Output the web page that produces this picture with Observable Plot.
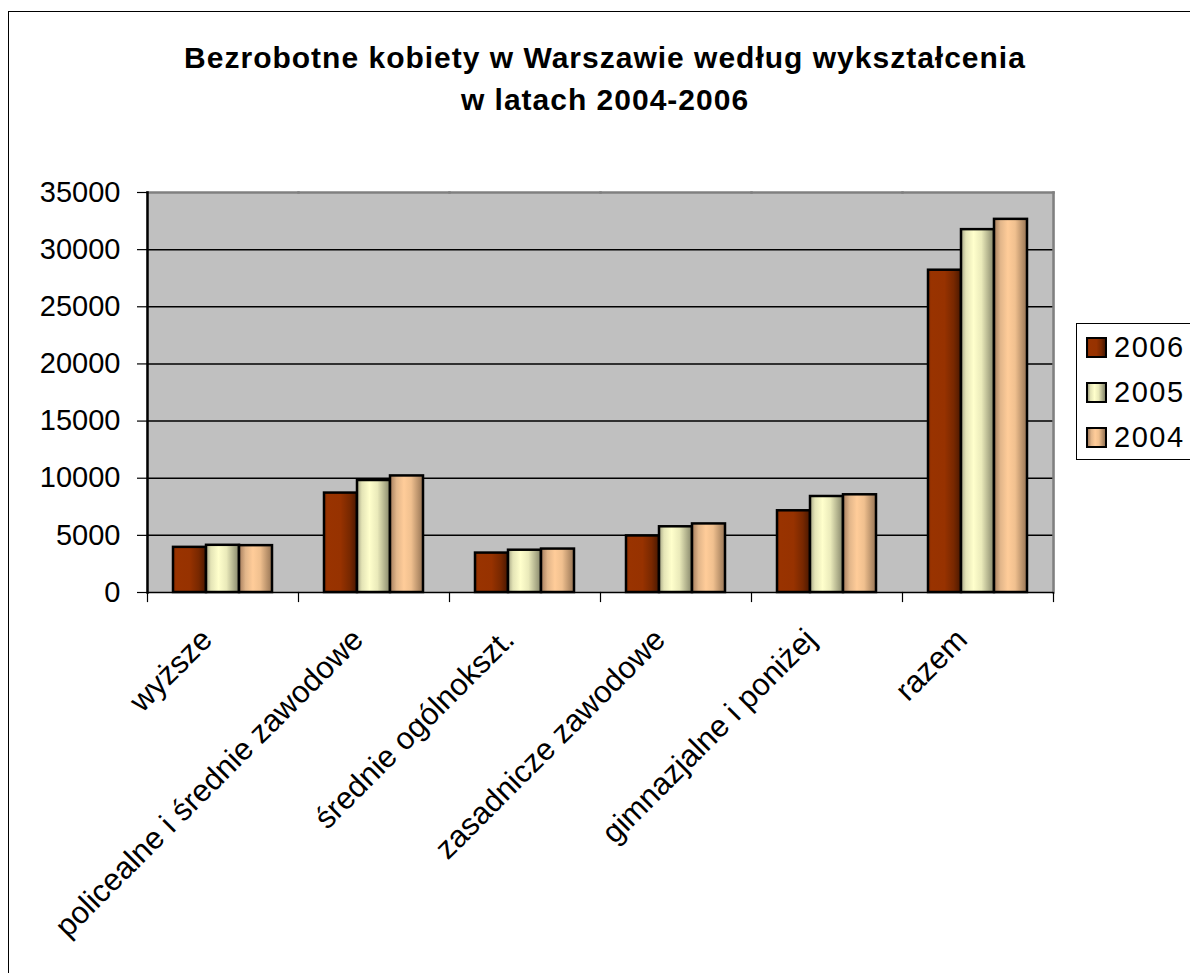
<!DOCTYPE html>
<html>
<head>
<meta charset="utf-8">
<script src="https://cdn.jsdelivr.net/npm/d3@7"></script>
<script src="https://cdn.jsdelivr.net/npm/@observablehq/plot@0.6"></script>
<style>
  body { margin: 0; background: #fff; font-family: "Liberation Sans", Arial, sans-serif; color: #000; }
  #wrap { position: relative; width: 1190px; height: 973px; overflow: hidden; background: #fff; }
  #border { position: absolute; left: 8px; top: 11px; width: 1400px; height: 1200px; border: 1.5px solid #000; box-sizing: border-box; pointer-events: none; }
  #title { position: relative; height: 140px; box-sizing: border-box; padding-top: 37px; width: 1210px; text-align: center; font-weight: bold; font-size: 30px; line-height: 42px; letter-spacing: 1px; }
  #chart { position: relative; }
  #legend { position: absolute; left: 1076px; top: 323px; width: 200px; height: 137px; border: 1px solid #000; background: #fff; box-sizing: border-box; padding-top: 1px; }
  .row { height: 45px; display: flex; align-items: center; font-size: 29px; letter-spacing: 1.5px; }
  .sw { width: 21px; height: 21px; border: 2px solid #000; box-sizing: border-box; margin-left: 9px; margin-right: 7px; }
</style>
</head>
<body>
<div id="wrap">
  <div id="border"></div>
  <div id="title"><div>Bezrobotne kobiety w Warszawie według wykształcenia</div><div>w latach 2004-2006</div></div>
  <div id="chart"></div>
  <div id="legend"></div>
</div>
<script>
// ---- data ----
const categories = ["wyższe", "policealne i średnie zawodowe", "średnie ogólnokszt.", "zasadnicze zawodowe", "gimnazjalne i poniżej", "razem"];
const years = ["2006", "2005", "2004"];
const v2006 = [3950, 8700, 3450, 4950, 7150, 28200];
const v2005 = [4130, 9800, 3700, 5750, 8400, 31750];
const v2004 = [4100, 10200, 3800, 6000, 8550, 32650];
const yTicks = [0, 5000, 10000, 15000, 20000, 25000, 30000, 35000];

const seriesValues = {"2006": v2006, "2005": v2005, "2004": v2004};
const rows = [];
categories.forEach((c, i) => years.forEach(y => rows.push({cat: c, year: y, value: seriesValues[y][i]})));

// ---- gradients (cylinder-like shading) ----
const gradStops = {
  "2006": [[0, "#862c00"], [0.1, "#993300"], [0.5, "#973200"], [0.78, "#782800"], [1, "#4a1800"]],
  "2005": [[0, "#a4a484"], [0.15, "#e4e4b6"], [0.38, "#ffffcc"], [0.62, "#eaeaba"], [1, "#86866a"]],
  "2004": [[0, "#a47c5c"], [0.2, "#e2b68a"], [0.42, "#ffcc99"], [0.64, "#f0c08f"], [1, "#967454"]]
};

const ff = "'Liberation Sans', Arial, sans-serif";
const innerH = 400;

const chart = Plot.plot({
  width: 1190,
  height: 833,
  marginTop: 52,
  marginBottom: 381,
  marginLeft: 147,
  marginRight: 137,
  style: {fontFamily: ff, fontSize: "29px", color: "#000", background: "transparent", overflow: "visible"},
  fx: {domain: categories, padding: 0, axis: null, label: null},
  x: {domain: years, paddingInner: 0, paddingOuter: 0.74, axis: null},
  y: {domain: [0, 35000], axis: null},
  color: {domain: years, range: years.map(y => `url(#grad${y})`)},
  marks: [
    // plot-area background (per facet, overlapping slightly to avoid seams)
    Plot.frame({fill: "#c0c0c0", stroke: null, insetLeft: -1, insetRight: -1}),
    // gridlines
    Plot.gridY(yTicks.slice(1, -1), {stroke: "#000", strokeOpacity: 1, strokeWidth: 1.5}),
    // plot-area border (gray)
    Plot.frame({anchor: "top", stroke: "#808080", strokeWidth: 2.5}),
    Plot.frame({anchor: "right", facetAnchor: "right", stroke: "#808080", strokeWidth: 2.5}),
    // bars
    Plot.barY(rows, {fx: "cat", x: "year", y: "value", fill: "year", stroke: "#000", strokeWidth: 2.5}),
    // category boundary ticks below the axis
    Plot.frame({anchor: "left", stroke: "#000", strokeWidth: 1.2, insetTop: innerH, insetBottom: -9}),
    Plot.frame({anchor: "right", facetAnchor: "right", stroke: "#000", strokeWidth: 1.2, insetTop: innerH, insetBottom: -9}),
    // x axis line
    Plot.ruleY([0], {stroke: "#000", strokeWidth: 1.5}),
    // y axis line
    Plot.frame({anchor: "left", facetAnchor: "left", stroke: "#000", strokeWidth: 2.5}),
    Plot.axisY(yTicks, {tickSize: 10, tickPadding: 17, tickFormat: d3.format("d"), label: null, stroke: "#000", strokeWidth: 1.2, fill: "#000", style: "letter-spacing:1px"}),
    Plot.axisFx({anchor: "bottom", tickRotate: -45, tickSize: 0, tickPadding: 42, dx: -16, label: null, fill: "#000", fontSize: 31, style: "letter-spacing:0.6px"})
  ]
});

// gradient defs
const defs = d3.select(chart).insert("defs", ":first-child");
years.forEach(y => {
  const lg = defs.append("linearGradient").attr("id", `grad${y}`).attr("x1", "0").attr("x2", "1").attr("y1", "0").attr("y2", "0");
  gradStops[y].forEach(([o, c]) => lg.append("stop").attr("offset", o).attr("stop-color", c));
});

document.getElementById("chart").appendChild(chart);

// legend
const legend = d3.select("#legend");
years.forEach(y => {
  const r = legend.append("div").attr("class", "row");
  r.append("div").attr("class", "sw")
    .style("background", "linear-gradient(to right, " + gradStops[y].map(([o, c]) => `${c} ${o * 100}%`).join(", ") + ")");
  r.append("span").text(y);
});
</script>
</body>
</html>
